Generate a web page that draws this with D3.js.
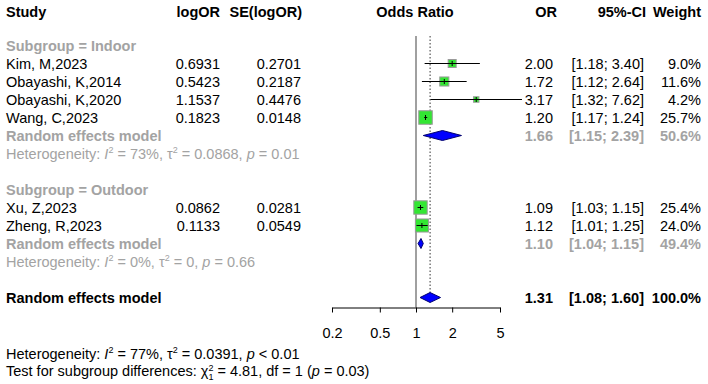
<!DOCTYPE html>
<html>
<head>
<meta charset="utf-8">
<script src="https://cdn.jsdelivr.net/npm/d3@7"></script>
<style>
  body { margin: 0; background: #fff; }
  text { font-family: "Liberation Sans", Arial, sans-serif; font-size: 14.5px; }
</style>
</head>
<body>
<div id="forest"></div>
<script>
// datos de los estudios
var studies = ["Kim, M,2023", "Obayashi, K,2014", "Obayashi, K,2020", "Wang, C,2023", "Xu, Z,2023", "Zheng, R,2023"];
var groupOf = ["Indoor", "Indoor", "Indoor", "Indoor", "Outdoor", "Outdoor"];
var logOR = ["0.6931", "0.5423", "1.1537", "0.1823", "0.0862", "0.1133"];
var seLogOR = ["0.2701", "0.2187", "0.4476", "0.0148", "0.0281", "0.0549"];
var orVal = [2.00, 1.72, 3.17, 1.20, 1.09, 1.12];
var ciLow = [1.18, 1.12, 1.32, 1.17, 1.03, 1.01];
var ciHigh = [3.40, 2.64, 7.62, 1.24, 1.15, 1.25];
var weight = [9.0, 11.6, 4.2, 25.7, 25.4, 24.0];

// subgrupos
var subgroups = ["Indoor", "Outdoor"];
var subOR = [1.66, 1.10];
var subLow = [1.15, 1.04];
var subHigh = [2.39, 1.15];
var subWeight = [50.6, 49.4];
var subI2 = ["73%", "0%"];
var subTau2 = ["0.0868", "0"];
var subP = ["= 0.01", "= 0.66"];

// modelo global
var totOR = 1.31, totLow = 1.08, totHigh = 1.60, totWeight = 100.0;
var tickVals = [0.2, 0.5, 1, 2, 5];

var width = 708, height = 384;
var grey = "#a3a3a3";

var svg = d3.select("#forest").append("svg")
    .attr("width", width)
    .attr("height", height);

var x = d3.scaleLog().domain([0.2, 5]).range([332, 500]);
var y = d3.scaleLinear().domain([0, 1]).range([45.5, 63.5]);

var f2 = d3.format(".2f");
var fw = function (d) { return d.toFixed(1) + "%"; };

// construir filas
var rows = [];
var r = 0;
subgroups.forEach(function (g, gi) {
    rows.push({ type: "label", row: r++, text: "Subgroup = " + g });
    studies.forEach(function (s, i) {
        if (groupOf[i] === g) rows.push({ type: "study", row: r++, i: i });
    });
    rows.push({ type: "pooled", row: r++, g: gi });
    rows.push({ type: "het", row: r++, g: gi });
    r++;
});
var totalRow = r;

// cabecera
var hdr = svg.append("g").attr("font-weight", "bold");
hdr.append("text").attr("x", 6).attr("y", 17).text("Study");
hdr.append("text").attr("x", 220).attr("y", 17).attr("text-anchor", "end").text("logOR");
hdr.append("text").attr("x", 302).attr("y", 17).attr("text-anchor", "end").text("SE(logOR)");
hdr.append("text").attr("x", 415).attr("y", 17).attr("text-anchor", "middle").text("Odds Ratio");
hdr.append("text").attr("x", 557).attr("y", 17).attr("text-anchor", "end").text("OR");
hdr.append("text").attr("x", 646).attr("y", 17).attr("text-anchor", "end").text("95%-CI");
hdr.append("text").attr("x", 701).attr("y", 17).attr("text-anchor", "end").text("Weight");

// linea nula y linea del efecto global
svg.append("line")
    .attr("x1", x(1)).attr("x2", x(1))
    .attr("y1", 36).attr("y2", 307.5)
    .attr("stroke", "#808080").attr("stroke-width", 1.5);
svg.append("line")
    .attr("x1", x(totOR)).attr("x2", x(totOR))
    .attr("y1", 36).attr("y2", y(totalRow) - 5)
    .attr("stroke", "#333").attr("stroke-width", 1)
    .attr("stroke-dasharray", "1.5,2");

function rightCols(g, yy, o, lo, hi, w, color, bold) {
    var t = g.append("g").attr("fill", color).attr("font-weight", bold ? "bold" : "normal");
    t.append("text").attr("x", 553).attr("y", yy + 5).attr("text-anchor", "end").text(f2(o));
    t.append("text").attr("x", 644).attr("y", yy + 5).attr("text-anchor", "end")
        .text("[" + f2(lo) + "; " + f2(hi) + "]");
    t.append("text").attr("x", 701).attr("y", yy + 5).attr("text-anchor", "end").text(fw(w));
}

function diamond(yy, o, lo, hi) {
    svg.append("path")
        .attr("d", "M" + x(lo) + "," + yy + "L" + x(o) + "," + (yy - 5) +
            "L" + x(hi) + "," + yy + "L" + x(o) + "," + (yy + 5) + "Z")
        .attr("fill", "#0000ff").attr("stroke", "#00006e").attr("stroke-width", 1);
}

function hetText(g, yy, color, i2, tau2, p) {
    var t = g.append("text").attr("x", 6).attr("y", yy).attr("fill", color);
    t.append("tspan").text("Heterogeneity: ");
    t.append("tspan").attr("font-style", "italic").text("I");
    t.append("tspan").attr("dy", -6).attr("font-size", "9px").text("2");
    t.append("tspan").attr("dy", 6).text(" = " + i2 + ", \u03c4");
    t.append("tspan").attr("dy", -6).attr("font-size", "9px").text("2");
    t.append("tspan").attr("dy", 6).text(" = " + tau2 + ", ");
    t.append("tspan").attr("font-style", "italic").text("p");
    t.append("tspan").text(" " + p);
}

var body = svg.append("g");
var maxW = d3.max(weight);
var sq = d3.scaleSqrt().domain([0, maxW]).range([0, 13.5]);

rows.forEach(function (d) {
    var yy = y(d.row);
    if (d.type === "label") {
        body.append("text").attr("x", 6).attr("y", yy + 5)
            .attr("fill", grey).attr("font-weight", "bold").text(d.text);
    } else if (d.type === "study") {
        var i = d.i;
        body.append("text").attr("x", 6).attr("y", yy + 5).text(studies[i]);
        body.append("text").attr("x", 220).attr("y", yy + 5).attr("text-anchor", "end").text(logOR[i]);
        body.append("text").attr("x", 301).attr("y", yy + 5).attr("text-anchor", "end").text(seLogOR[i]);
        var s = sq(weight[i]);
        svg.append("rect")
            .attr("x", x(orVal[i]) - s / 2).attr("y", yy - s / 2)
            .attr("width", s).attr("height", s)
            .attr("fill", "#33e633").attr("stroke", "#9a9a9a").attr("stroke-width", 1);
        svg.append("line")
            .attr("x1", x(ciLow[i])).attr("x2", x(ciHigh[i]))
            .attr("y1", yy).attr("y2", yy)
            .attr("stroke", "#000").attr("stroke-width", 1);
        svg.append("line")
            .attr("x1", x(orVal[i])).attr("x2", x(orVal[i]))
            .attr("y1", yy - 2.5).attr("y2", yy + 2.5)
            .attr("stroke", "#000").attr("stroke-width", 1);
        rightCols(body, yy, orVal[i], ciLow[i], ciHigh[i], weight[i], "#000", false);
    } else if (d.type === "pooled") {
        var g = d.g;
        body.append("text").attr("x", 6).attr("y", yy + 5)
            .attr("fill", grey).attr("font-weight", "bold").text("Random effects model");
        diamond(yy, subOR[g], subLow[g], subHigh[g]);
        rightCols(body, yy, subOR[g], subLow[g], subHigh[g], subWeight[g], grey, true);
    } else if (d.type === "het") {
        hetText(body, yy + 5, grey, subI2[d.g], subTau2[d.g], subP[d.g]);
    }
});

// modelo global
var yt = y(totalRow);
body.append("text").attr("x", 6).attr("y", yt + 5).attr("font-weight", "bold").text("Random effects model");
diamond(yt, totOR, totLow, totHigh);
rightCols(body, yt, totOR, totLow, totHigh, totWeight, "#000", true);

// eje X
var axis = svg.append("g")
    .attr("transform", "translate(0,307.5)")
    .call(d3.axisBottom(x)
        .tickValues(tickVals)
        .tickFormat(function (d) { return d; })
        .tickSize(5)
        .tickSizeOuter(0)
        .tickPadding(15));
axis.selectAll("text").attr("font-size", "14.5px").attr("font-family", "Liberation Sans, Arial, sans-serif").attr("fill", "#000");
axis.selectAll("line, path").attr("stroke", "#000");

// textos inferiores
hetText(svg, 359, "#000", "77%", "0.0391", "< 0.01");

var t2 = svg.append("text").attr("x", 6).attr("y", 376);
t2.append("tspan").text("Test for subgroup differences: \u03c7");
t2.append("tspan").attr("dy", -5).attr("font-size", "9px").text("2");
t2.append("tspan").attr("dx", -5).attr("dy", 9).attr("font-size", "9px").text("1");
t2.append("tspan").attr("dy", -4).text(" = 4.81, df = 1 (");
t2.append("tspan").attr("font-style", "italic").text("p");
t2.append("tspan").text(" = 0.03)");
</script>
</body>
</html>
